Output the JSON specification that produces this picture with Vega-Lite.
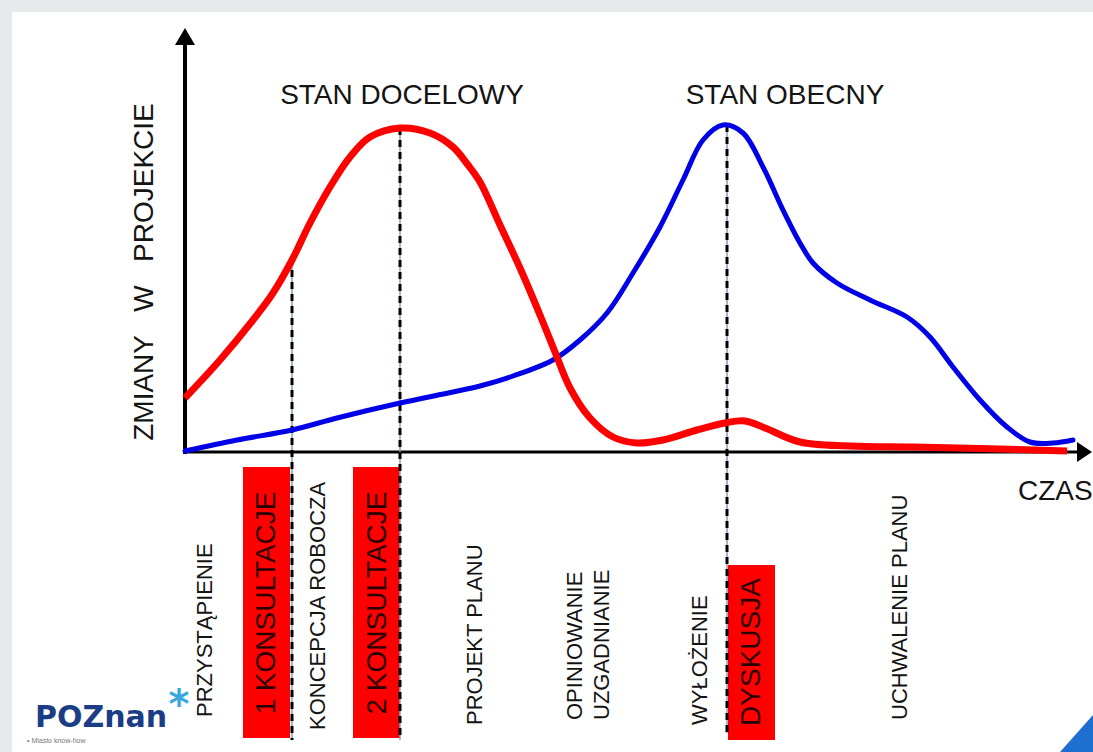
{
  "$schema": "https://vega.github.io/schema/vega-lite/v6.json",
  "width": 1093,
  "height": 752,
  "autosize": {"type": "fit", "contains": "padding"},
  "padding": 0,
  "background": "#e7eaed",
  "view": {"stroke": null},
  "config": {"text": {"font": "Liberation Sans"}},
  "datasets": {
    "frame": [{"t": -17.3, "t2": 90.8, "v": 44.0, "v2": -30}],
    "corner": [{"t": 87.5, "v": -30, "v2": -30}, {"t": 90.8, "v": -26.3, "v2": -30}],
    "red": [
      {"t": 0, "v": 5.4}, {"t": 3.5, "v": 9.2}, {"t": 6.8, "v": 13.2}, {"t": 8.8, "v": 15.9},
      {"t": 10.7, "v": 19.2}, {"t": 12.5, "v": 22.9}, {"t": 14.5, "v": 26.5}, {"t": 16.5, "v": 29.5},
      {"t": 18.5, "v": 31.5}, {"t": 21.5, "v": 32.4}, {"t": 24.5, "v": 31.9}, {"t": 26.8, "v": 30.5},
      {"t": 28.3, "v": 28.7}, {"t": 29.5, "v": 27.0}, {"t": 31.5, "v": 22.7}, {"t": 33.5, "v": 18.4},
      {"t": 35.5, "v": 13.7}, {"t": 37.0, "v": 10.0}, {"t": 38.5, "v": 6.4}, {"t": 40.5, "v": 3.4},
      {"t": 42.8, "v": 1.5}, {"t": 45.2, "v": 0.9}, {"t": 47.8, "v": 1.2}, {"t": 51.2, "v": 2.2},
      {"t": 54.0, "v": 2.9}, {"t": 56.0, "v": 3.1}, {"t": 58.0, "v": 2.4}, {"t": 61.5, "v": 1.0},
      {"t": 66.5, "v": 0.6}, {"t": 72.8, "v": 0.5}, {"t": 81.5, "v": 0.3}, {"t": 88.2, "v": 0.1}
    ],
    "blue": [
      {"t": 0, "v": 0.1}, {"t": 5.2, "v": 1.2}, {"t": 10.7, "v": 2.2}, {"t": 15.2, "v": 3.4},
      {"t": 21.5, "v": 4.9}, {"t": 26.8, "v": 6.0}, {"t": 29.5, "v": 6.6}, {"t": 32.8, "v": 7.6},
      {"t": 36.8, "v": 9.2}, {"t": 39.5, "v": 11.2}, {"t": 42.2, "v": 13.9}, {"t": 44.8, "v": 17.9},
      {"t": 47.5, "v": 22.5}, {"t": 49.8, "v": 27.2}, {"t": 51.8, "v": 31.2}, {"t": 53.8, "v": 32.7},
      {"t": 55.8, "v": 31.9}, {"t": 57.8, "v": 28.5}, {"t": 59.8, "v": 24.2}, {"t": 61.5, "v": 20.9},
      {"t": 62.8, "v": 18.9}, {"t": 65.2, "v": 16.9}, {"t": 68.5, "v": 15.2}, {"t": 72.2, "v": 13.5},
      {"t": 74.5, "v": 11.5}, {"t": 76.8, "v": 8.5}, {"t": 79.5, "v": 5.2}, {"t": 82.2, "v": 2.5},
      {"t": 84.5, "v": 1.0}, {"t": 86.8, "v": 0.9}, {"t": 88.8, "v": 1.2}
    ],
    "guides": [
      {"t": 10.7, "v": 19.4, "v2": -28.8},
      {"t": 21.5, "v": 32.4, "v2": -28.8},
      {"t": 54.2, "v": 32.7, "v2": -28.1}
    ],
    "boxes": [
      {"t": 5.8, "t2": 10.5, "v": -1.5, "v2": -28.6},
      {"t": 16.8, "t2": 21.5, "v": -1.5, "v2": -28.6},
      {"t": 54.3, "t2": 59.0, "v": -11.3, "v2": -28.8}
    ],
    "yaxis": [{"t": 0, "v": -0.2, "v2": 40.8}],
    "xaxis": [{"t": -0.2, "t2": 89.2, "v": 0}],
    "arrowUp": [{"t": 0, "v": 42.4}],
    "arrowRight": [{"t": 90.7, "v": 0}],
    "titles": [
      {"t": 21.7, "v": 35.6, "label": "STAN DOCELOWY"},
      {"t": 60.0, "v": 35.6, "label": "STAN OBECNY"}
    ],
    "czas": [{"t": 83.3, "v": -4.0, "label": "CZAS"}],
    "ytitle": [{"t": -4.0, "v": 18.0, "label": "ZMIANY\u00a0\u00a0\u00a0W\u00a0\u00a0\u00a0PROJEKCIE"}],
    "phases": [
      {"t": 2.0, "v": -26.5, "label": "PRZYSTĄPIENIE"},
      {"t": 13.3, "v": -27.8, "label": "KONCEPCJA ROBOCZA"},
      {"t": 29.0, "v": -27.3, "label": "PROJEKT PLANU"},
      {"t": 39.0, "v": -26.8, "label": "OPINIOWANIE"},
      {"t": 41.7, "v": -26.8, "label": "UZGADNIANIE"},
      {"t": 51.5, "v": -27.3, "label": "WYŁOŻENIE"},
      {"t": 71.5, "v": -26.8, "label": "UCHWALENIE PLANU"}
    ],
    "boxlabels": [
      {"t": 8.2, "v": -15.1, "label": "1 KONSULTACJE"},
      {"t": 19.3, "v": -15.1, "label": "2 KONSULTACJE"},
      {"t": 56.7, "v": -20.0, "label": "DYSKUSJA"}
    ],
    "logo": [{"t": -15.0, "v": -26.6, "label": "POZnan"}],
    "star": [{"t": -0.6, "v": -25.4, "label": "*"}],
    "slogan": [{"t": -15.8, "v": -28.9, "label": "• Miasto know-how"}]
  },
  "layer": [
    {
      "data": {"name": "frame"},
      "mark": {"type": "rect", "color": "#ffffff"},
      "encoding": {
        "x": {"field": "t", "type": "quantitative", "scale": {"domain": [-18.5, 90.8], "nice": false, "zero": false}, "axis": null},
        "x2": {"field": "t2"},
        "y": {"field": "v", "type": "quantitative", "scale": {"domain": [-30, 45.2], "nice": false, "zero": false}, "axis": null},
        "y2": {"field": "v2"}
      }
    },
    {
      "data": {"name": "corner"},
      "mark": {"type": "area", "color": "#1f6fd1", "opacity": 1},
      "encoding": {
        "x": {"field": "t", "type": "quantitative"},
        "y": {"field": "v", "type": "quantitative"},
        "y2": {"field": "v2"}
      }
    },
    {
      "data": {"name": "boxes"},
      "mark": {"type": "rect", "color": "#ff0000"},
      "encoding": {
        "x": {"field": "t", "type": "quantitative"},
        "x2": {"field": "t2"},
        "y": {"field": "v", "type": "quantitative"},
        "y2": {"field": "v2"}
      }
    },
    {
      "data": {"name": "yaxis"},
      "mark": {"type": "rule", "color": "#000000", "strokeWidth": 4},
      "encoding": {
        "x": {"field": "t", "type": "quantitative"},
        "y": {"field": "v", "type": "quantitative"},
        "y2": {"field": "v2"}
      }
    },
    {
      "data": {"name": "xaxis"},
      "mark": {"type": "rule", "color": "#000000", "strokeWidth": 3},
      "encoding": {
        "x": {"field": "t", "type": "quantitative"},
        "x2": {"field": "t2"},
        "y": {"field": "v", "type": "quantitative"}
      }
    },
    {
      "data": {"name": "arrowUp"},
      "mark": {"type": "point", "shape": "M0,0L1,1.7L-1,1.7Z", "size": 400, "filled": true, "color": "#000000", "opacity": 1, "strokeWidth": 0},
      "encoding": {
        "x": {"field": "t", "type": "quantitative"},
        "y": {"field": "v", "type": "quantitative"}
      }
    },
    {
      "data": {"name": "arrowRight"},
      "mark": {"type": "point", "shape": "M0,0L-1.5,-1L-1.5,1Z", "size": 400, "filled": true, "color": "#000000", "opacity": 1, "strokeWidth": 0},
      "encoding": {
        "x": {"field": "t", "type": "quantitative"},
        "y": {"field": "v", "type": "quantitative"}
      }
    },
    {
      "data": {"name": "guides"},
      "mark": {"type": "rule", "color": "#7f9cc0", "strokeWidth": 1.5},
      "encoding": {
        "x": {"field": "t", "type": "quantitative"},
        "y": {"field": "v", "type": "quantitative"},
        "y2": {"field": "v2"}
      }
    },
    {
      "data": {"name": "guides"},
      "mark": {"type": "rule", "color": "#000000", "strokeWidth": 3, "strokeDash": [7, 5]},
      "encoding": {
        "x": {"field": "t", "type": "quantitative"},
        "y": {"field": "v", "type": "quantitative"},
        "y2": {"field": "v2"}
      }
    },
    {
      "data": {"name": "blue"},
      "mark": {"type": "line", "color": "#0000e6", "strokeWidth": 5, "interpolate": "catmull-rom", "strokeCap": "round"},
      "encoding": {
        "x": {"field": "t", "type": "quantitative"},
        "y": {"field": "v", "type": "quantitative"}
      }
    },
    {
      "data": {"name": "red"},
      "mark": {"type": "line", "color": "#ff0000", "strokeWidth": 7, "interpolate": "catmull-rom"},
      "encoding": {
        "x": {"field": "t", "type": "quantitative"},
        "y": {"field": "v", "type": "quantitative"}
      }
    },
    {
      "data": {"name": "titles"},
      "mark": {"type": "text", "fontSize": 28, "color": "#141414", "align": "center", "baseline": "middle"},
      "encoding": {
        "x": {"field": "t", "type": "quantitative"},
        "y": {"field": "v", "type": "quantitative"},
        "text": {"field": "label"}
      }
    },
    {
      "data": {"name": "czas"},
      "mark": {"type": "text", "fontSize": 28, "color": "#141414", "align": "left", "baseline": "middle"},
      "encoding": {
        "x": {"field": "t", "type": "quantitative"},
        "y": {"field": "v", "type": "quantitative"},
        "text": {"field": "label"}
      }
    },
    {
      "data": {"name": "ytitle"},
      "mark": {"type": "text", "fontSize": 28, "color": "#141414", "align": "center", "baseline": "middle", "angle": 270},
      "encoding": {
        "x": {"field": "t", "type": "quantitative"},
        "y": {"field": "v", "type": "quantitative"},
        "text": {"field": "label"}
      }
    },
    {
      "data": {"name": "phases"},
      "mark": {"type": "text", "fontSize": 22, "color": "#141414", "align": "left", "baseline": "middle", "angle": 270},
      "encoding": {
        "x": {"field": "t", "type": "quantitative"},
        "y": {"field": "v", "type": "quantitative"},
        "text": {"field": "label"}
      }
    },
    {
      "data": {"name": "boxlabels"},
      "mark": {"type": "text", "fontSize": 28, "color": "#2a0000", "align": "center", "baseline": "middle", "angle": 270},
      "encoding": {
        "x": {"field": "t", "type": "quantitative"},
        "y": {"field": "v", "type": "quantitative"},
        "text": {"field": "label"}
      }
    },
    {
      "data": {"name": "logo"},
      "mark": {"type": "text", "fontSize": 30, "font": "DejaVu Sans", "fontWeight": "bold", "color": "#1b3d86", "align": "left", "baseline": "middle"},
      "encoding": {
        "x": {"field": "t", "type": "quantitative"},
        "y": {"field": "v", "type": "quantitative"},
        "text": {"field": "label"}
      }
    },
    {
      "data": {"name": "star"},
      "mark": {"type": "text", "fontSize": 40, "font": "DejaVu Sans", "fontWeight": "bold", "color": "#3aa7e0", "align": "center", "baseline": "middle"},
      "encoding": {
        "x": {"field": "t", "type": "quantitative"},
        "y": {"field": "v", "type": "quantitative"},
        "text": {"field": "label"}
      }
    },
    {
      "data": {"name": "slogan"},
      "mark": {"type": "text", "fontSize": 7, "color": "#777777", "align": "left", "baseline": "middle"},
      "encoding": {
        "x": {"field": "t", "type": "quantitative"},
        "y": {"field": "v", "type": "quantitative"},
        "text": {"field": "label"}
      }
    }
  ]
}
